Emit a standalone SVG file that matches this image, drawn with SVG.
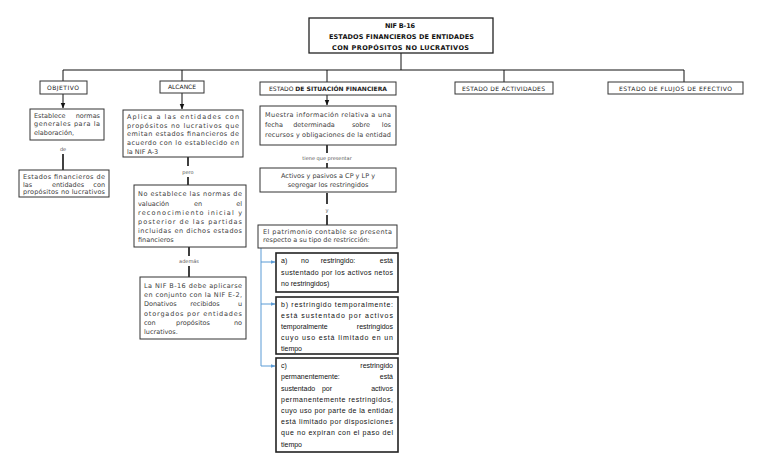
<svg xmlns="http://www.w3.org/2000/svg" width="768" height="466" viewBox="0 0 768 466">
<defs>
<style>
.t{font-family:"DejaVu Sans",sans-serif;font-size:6.5px;fill:#404040}
.h{font-family:"DejaVu Sans",sans-serif;font-size:6px;fill:#1a1a1a}
.hb{font-family:"DejaVu Sans",sans-serif;font-size:6px;fill:#1a1a1a;font-weight:bold}
.ti{font-family:"DejaVu Sans",sans-serif;font-size:6.5px;fill:#111;font-weight:bold}
.lb{font-family:"DejaVu Sans",sans-serif;font-size:5px;fill:#555}
.b{font-family:"Liberation Sans",sans-serif;font-size:7px;fill:#111}
.box{fill:#fff;stroke:#333;stroke-width:1}
.box2{fill:#fff;stroke:#222;stroke-width:1.6}
.ln{stroke:#111;stroke-width:1;fill:none}
.lt{stroke:#111;stroke-width:1.6;fill:none}
.bl{stroke:#5b9bd5;stroke-width:1;fill:none}
</style>
<marker id="ah" viewBox="0 0 10 10" refX="9" refY="5" markerWidth="6" markerHeight="6" orient="auto">
<path d="M0,1 L10,5 L0,9 z" fill="#111"/>
</marker>
<marker id="ahb" viewBox="0 0 10 10" refX="9" refY="5" markerWidth="5" markerHeight="5" orient="auto">
<path d="M0,1 L10,5 L0,9 z" fill="#5b9bd5"/>
</marker>
</defs>
<rect width="768" height="466" fill="#fff"/>

<g id="connectors">
<path class="ln" d="M401,53 V70 M63,70 H684 M63,70 V81 M182,70 V81 M327,70 V82 M504,70 V82 M684,70 V82"/>
<path class="ln" marker-end="url(#ah)" d="M63,94 V108"/>
<path class="ln" marker-end="url(#ah)" d="M182,93 V109"/>
<path class="ln" marker-end="url(#ah)" d="M327,95 V105"/>
<path class="lt" d="M63,154 V170"/>
<path class="lt" d="M188,157 V166 M188,177 V185"/>
<path class="lt" d="M189,247 V256 M189,266 V277"/>
<path class="lt" d="M327,145 V153 M327,163 V168"/>
<path class="lt" d="M327,193 V204 M327,215 V225"/>
<path class="bl" d="M261,248 V366"/>
<path class="bl" marker-end="url(#ahb)" d="M261,262 H275"/>
<path class="bl" marker-end="url(#ahb)" d="M261,304 H275"/>
<path class="bl" marker-end="url(#ahb)" d="M261,366 H275"/>
<text class="lb" x="63" y="151" text-anchor="middle">de</text>
<text class="lb" x="188" y="174" text-anchor="middle">pero</text>
<text class="lb" x="189" y="263" text-anchor="middle">además</text>
<text class="lb" x="327" y="160" text-anchor="middle">tiene que presentar</text>
<text class="lb" x="327" y="212" text-anchor="middle">y</text>
</g>

<g id="title">
<rect x="309" y="18" width="184" height="35" fill="#fff" stroke="#222" stroke-width="1.3"/>
<text class="ti" x="385" y="27.5" textLength="30" lengthAdjust="spacing">NIF B-16</text>
<text class="ti" x="329" y="38.5" textLength="145" lengthAdjust="spacing">ESTADOS FINANCIEROS DE ENTIDADES</text>
<text class="ti" x="332" y="50" textLength="137" lengthAdjust="spacing">CON PROPÓSITOS NO LUCRATIVOS</text>
</g>

<g id="objetivo">
<rect class="box" x="40" y="81" width="47" height="13"/>
<text class="h" x="47" y="89.5" textLength="32" lengthAdjust="spacing">OBJETIVO</text>
</g>
<g id="establece">
<rect class="box" x="30" y="109" width="74" height="31"/>
<text class="t" x="34" y="117.5">Establece</text>
<text class="t" x="100" y="117.5" text-anchor="end">normas</text>
<text class="t" x="34" y="126" textLength="66" lengthAdjust="spacing">generales para la</text>
<text class="t" x="34" y="134.5">elaboración,</text>
</g>
<g id="estados">
<rect class="box" x="19" y="170" width="90" height="27"/>
<text class="t" x="23" y="179" textLength="82" lengthAdjust="spacing">Estados financieros de</text>
<text class="t" x="23" y="186.5">las</text>
<text class="t" x="68" y="186.5" text-anchor="middle">entidades</text>
<text class="t" x="105" y="186.5" text-anchor="end">con</text>
<text class="t" x="23" y="194" textLength="82" lengthAdjust="spacing">propósitos no lucrativos</text>
</g>

<g id="alcance">
<rect class="box" x="160" y="81" width="44" height="12"/>
<text class="h" x="182" y="89" text-anchor="middle">ALCANCE</text>
</g>
<g id="aplica">
<rect class="box" x="123" y="110" width="120" height="47"/>
<text class="t" x="127" y="118.5" textLength="112" lengthAdjust="spacing">Aplica a las entidades con</text>
<text class="t" x="127" y="127.5" textLength="112" lengthAdjust="spacing">propósitos no lucrativos que</text>
<text class="t" x="127" y="136" textLength="112" lengthAdjust="spacing">emitan estados financieros de</text>
<text class="t" x="127" y="144.5" textLength="112" lengthAdjust="spacing">acuerdo con lo establecido en</text>
<text class="t" x="127" y="153.5">la NIF A-3</text>
</g>
<g id="noestablece">
<rect class="box" x="134" y="185" width="112" height="62"/>
<text class="t" x="138" y="196" textLength="104" lengthAdjust="spacing">No establece las normas de</text>
<text class="t" x="138" y="205.5">valuación</text>
<text class="t" x="198" y="205.5" text-anchor="middle">en</text>
<text class="t" x="242" y="205.5" text-anchor="end">el</text>
<text class="t" x="138" y="215" textLength="104" lengthAdjust="spacing">reconocimiento inicial y</text>
<text class="t" x="138" y="224" textLength="104" lengthAdjust="spacing">posterior de las partidas</text>
<text class="t" x="138" y="233" textLength="104" lengthAdjust="spacing">incluidas en dichos estados</text>
<text class="t" x="138" y="242">financieros</text>
</g>
<g id="lanif">
<rect class="box" x="140" y="277" width="106" height="62"/>
<text class="t" x="144" y="288" textLength="98" lengthAdjust="spacing">La NIF B-16 debe aplicarse</text>
<text class="t" x="144" y="297" textLength="98" lengthAdjust="spacing">en conjunto con la NIF E-2,</text>
<text class="t" x="144" y="306">Donativos</text>
<text class="t" x="205" y="306" text-anchor="middle">recibidos</text>
<text class="t" x="242" y="306" text-anchor="end">u</text>
<text class="t" x="144" y="315.5" textLength="98" lengthAdjust="spacing">otorgados por entidades</text>
<text class="t" x="144" y="324.5">con</text>
<text class="t" x="193" y="324.5" text-anchor="middle">propósitos</text>
<text class="t" x="242" y="324.5" text-anchor="end">no</text>
<text class="t" x="144" y="334">lucrativos.</text>
</g>

<g id="situacion">
<rect class="box" x="260" y="82" width="136" height="13"/>
<text x="269" y="91" textLength="118" lengthAdjust="spacing"><tspan class="h">ESTADO </tspan><tspan class="hb">DE SITUACIÓN FINANCIERA</tspan></text>
</g>
<g id="muestra">
<rect class="box" x="260" y="106" width="136" height="39"/>
<text class="t" x="265" y="116.5" textLength="126" lengthAdjust="spacing">Muestra información relativa a una</text>
<text class="t" x="265" y="126.5">fecha</text>
<text class="t" x="314" y="126.5" text-anchor="middle">determinada</text>
<text class="t" x="361" y="126.5" text-anchor="middle">sobre</text>
<text class="t" x="391" y="126.5" text-anchor="end">los</text>
<text class="t" x="265" y="136.5" textLength="126" lengthAdjust="spacing">recursos y obligaciones de la entidad</text>
</g>
<g id="activos">
<rect class="box" x="260" y="168" width="136" height="24"/>
<text class="t" x="328" y="178" text-anchor="middle">Activos y pasivos a CP y LP y</text>
<text class="t" x="328" y="187" text-anchor="middle">segregar los restringidos</text>
</g>
<g id="patrimonio">
<rect class="box" x="258" y="225" width="139" height="23"/>
<text class="t" x="263" y="234" textLength="129" lengthAdjust="spacing">El patrimonio contable se presenta</text>
<text class="t" x="263" y="242">respecto a su tipo de restricción:</text>
</g>
<g id="a">
<rect class="box2" x="276" y="253" width="122" height="39"/>
<text class="b" x="281" y="263">a)</text>
<text class="b" x="305" y="263" text-anchor="middle">no</text>
<text class="b" x="338" y="263" text-anchor="middle">restringido:</text>
<text class="b" x="393" y="263" text-anchor="end">está</text>
<text class="b" x="281" y="274.5" textLength="112" lengthAdjust="spacing">sustentado por los activos netos</text>
<text class="b" x="281" y="285.5">no restringidos)</text>
</g>
<g id="b">
<rect class="box2" x="276" y="297" width="122" height="57"/>
<text class="b" x="281" y="306.5" textLength="112" lengthAdjust="spacing">b) restringido temporalmente:</text>
<text class="b" x="281" y="318" textLength="112" lengthAdjust="spacing">está sustentado por activos</text>
<text class="b" x="281" y="329">temporalmente</text>
<text class="b" x="393" y="329" text-anchor="end">restringidos</text>
<text class="b" x="281" y="340" textLength="112" lengthAdjust="spacing">cuyo uso está limitado en un</text>
<text class="b" x="281" y="350.5">tiempo</text>
</g>
<g id="c">
<rect class="box2" x="276" y="358" width="122" height="94"/>
<text class="b" x="281" y="367.5" fill="#666">c)</text>
<text class="b" x="393" y="367.5" text-anchor="end">restringido</text>
<text class="b" x="281" y="379">permanentemente:</text>
<text class="b" x="393" y="379" text-anchor="end">está</text>
<text class="b" x="281" y="390.5">sustentado</text>
<text class="b" x="327" y="390.5" text-anchor="middle">por</text>
<text class="b" x="393" y="390.5" text-anchor="end">activos</text>
<text class="b" x="281" y="401.5" textLength="112" lengthAdjust="spacing">permanentemente restringidos,</text>
<text class="b" x="281" y="413" textLength="112" lengthAdjust="spacing">cuyo uso por parte de la entidad</text>
<text class="b" x="281" y="424" textLength="112" lengthAdjust="spacing">está limitado por disposiciones</text>
<text class="b" x="281" y="435" textLength="112" lengthAdjust="spacing">que no expiran con el paso del</text>
<text class="b" x="281" y="446.5">tiempo</text>
</g>

<g id="actividades">
<rect class="box" x="455" y="82" width="98" height="12"/>
<text class="h" x="462" y="90.5" textLength="83" lengthAdjust="spacing">ESTADO DE ACTIVIDADES</text>
</g>
<g id="flujos">
<rect class="box" x="608" y="82" width="135" height="12"/>
<text class="h" x="619" y="90.5" textLength="113" lengthAdjust="spacing">ESTADO DE FLUJOS DE EFECTIVO</text>
</g>
</svg>
